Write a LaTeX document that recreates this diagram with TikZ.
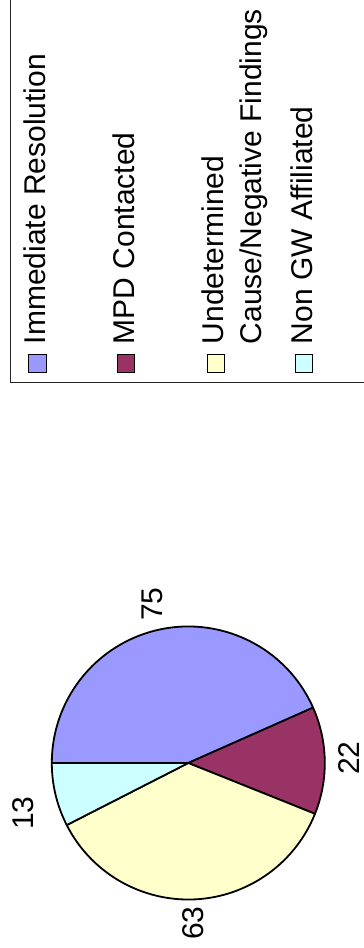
\documentclass[tikz,border=0pt]{standalone}
\usepackage{fontspec}
\setmainfont{Liberation Sans}
\definecolor{cBlue}{HTML}{9999FF}
\definecolor{cMaroon}{HTML}{993366}
\definecolor{cYellow}{HTML}{FFFFCC}
\definecolor{cCyan}{HTML}{CCFFFF}
\begin{document}
\begin{tikzpicture}[x=1pt,y=1pt,
  bigfont/.style={font=\fontsize{30}{38.5}\selectfont},
  legtext/.style={bigfont, rotate=90, anchor=base west, inner sep=0pt},
  pielabel/.style={bigfont, rotate=90, inner sep=0pt},
  legsq/.style={draw=black, line width=1.3pt, minimum width=17.5pt, minimum height=18pt, inner sep=0pt},
  slice/.style={draw=black, line width=1.8pt, line join=round}]
\useasboundingbox (0,0) rectangle (364,948);
\clip (0,0) rectangle (364,948);
% legend frame
\draw[line width=1pt, black!85] (10,960) -- (10,565) -- (370,565);
% legend squares
\node[legsq, fill=cBlue]   (s1) at (37.5,584.2) {};
\node[legsq, fill=cMaroon] (s2) at (126,584.2) {};
\node[legsq, fill=cYellow] (s3) at (216,584.2) {};
\node[legsq, fill=cCyan]   (s4) at (304,584.2) {};
% legend texts
\node[legtext] (t1) at (45.5,603.5) {Immediate Resolution};
\node[legtext] (t2) at (134,603.5) {MPD Contacted};
\node[legtext] (t3a) at (223,603.5) {Undetermined};
\node[legtext] (t3b) at (261.5,603.5) {Cause/Negative Findings};
\node[legtext] (t4) at (312.5,603.5) {Non GW Affiliated};
% pie
\coordinate (C) at (188.3,185);
\def\R{136.5}
\filldraw[slice, fill=cBlue]   (C) -- ++(23.93:\R) arc[start angle=23.93, end angle=180, radius=\R] -- cycle;
\filldraw[slice, fill=cMaroon] (C) -- ++(-21.85:\R) arc[start angle=-21.85, end angle=23.93, radius=\R] -- cycle;
\filldraw[slice, fill=cYellow] (C) -- ++(-152.95:\R) arc[start angle=-152.95, end angle=-21.85, radius=\R] -- cycle;
\filldraw[slice, fill=cCyan]   (C) -- ++(-180:\R) arc[start angle=-180, end angle=-152.95, radius=\R] -- cycle;
% pie labels
\node[pielabel] (l75) at (152.5,344) {75};
\node[pielabel] (l22) at (349,190) {22};
\node[pielabel] (l13) at (23,135) {13};
\node[pielabel] (l63) at (193,25) {63};
\end{tikzpicture}
\end{document}
